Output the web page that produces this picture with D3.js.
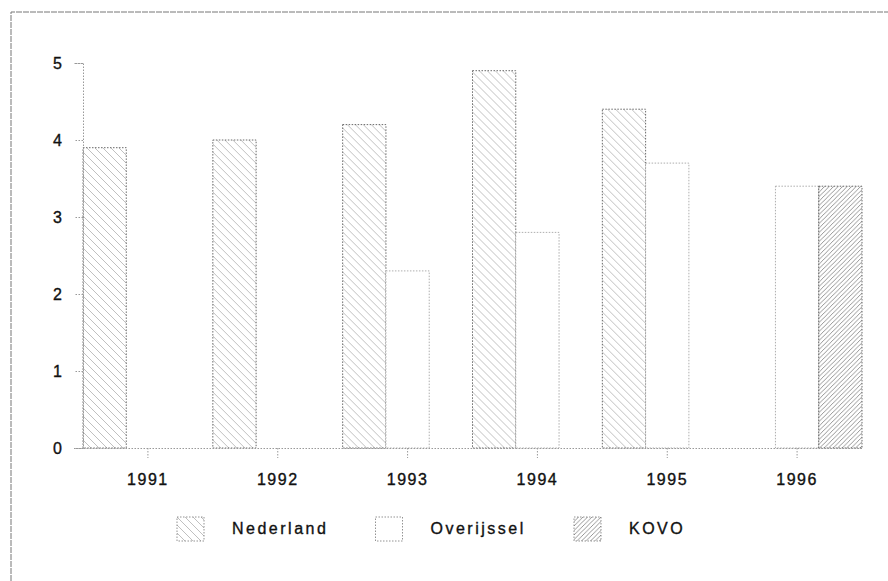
<!DOCTYPE html>
<html>
<head>
<meta charset="utf-8">
<script src="https://cdn.jsdelivr.net/npm/d3@7"></script>
<style>
  body { margin: 0; background: #fff; }
  text { font-family: "Liberation Sans", Arial, sans-serif; fill: #111; stroke: #111; stroke-width: 0.35px; }
</style>
</head>
<body>
<svg id="chart"></svg>
<script>
// values
let years = ["1991", "1992", "1993", "1994", "1995", "1996"];
let series = ["Nederland", "Overijssel", "KOVO"];
let nederland  = [3.9, 4.0, 4.2, 4.9, 4.4, 0];
let overijssel = [0, 0, 2.3, 2.8, 3.7, 3.4];
let kovo       = [0, 0, 0, 0, 0, 3.4];
let yTicks = [0, 1, 2, 3, 4, 5];

let width = 888, height = 581;
let plotLeft = 83, plotRight = 862, plotTop = 63, plotBottom = 448;

let svg = d3.select("#chart")
  .attr("width", width)
  .attr("height", height);

let defs = svg.append("defs");

// hatch for Nederland  (\\\ light)
let p1 = defs.append("pattern")
  .attr("id", "hatchNed")
  .attr("patternUnits", "userSpaceOnUse")
  .attr("width", 8).attr("height", 8);
p1.append("path")
  .attr("d", "M0,0 L8,8 M-4,4 L4,12 M4,-4 L12,4")
  .attr("stroke", "#b0b0b0")
  .attr("stroke-width", 0.8)
  .attr("fill", "none");

// hatch for KOVO (/// denser)
let p2 = defs.append("pattern")
  .attr("id", "hatchKovo")
  .attr("patternUnits", "userSpaceOnUse")
  .attr("width", 4.5).attr("height", 4.5);
p2.append("path")
  .attr("d", "M0,4.5 L4.5,0 M-2.25,2.25 L2.25,-2.25 M2.25,6.75 L6.75,2.25")
  .attr("stroke", "#8a8a8a")
  .attr("stroke-width", 0.9)
  .attr("fill", "none");

let fills = ["url(#hatchNed)", "#fff", "url(#hatchKovo)"];

// frame (top + left only)
svg.append("path")
  .attr("d", `M11,${height} L11,12 L${width},12`)
  .attr("fill", "none")
  .attr("stroke", "#777")
  .attr("stroke-width", 1)
  .attr("stroke-dasharray", "6,1");

let x = d3.scaleBand().domain(years).range([plotLeft, plotRight]).paddingInner(0).paddingOuter(0);
let xs = d3.scaleBand().domain(series).range([0, x.bandwidth()]);
let y = d3.scaleLinear().domain([0, 5]).range([plotBottom, plotTop]);

let table = years.map((yr, i) => ({
  year: yr,
  values: [nederland[i], overijssel[i], kovo[i]]
}));

// bars
let groups = svg.selectAll(".grp")
  .data(table)
  .join("g")
  .attr("class", "grp")
  .attr("transform", d => `translate(${x(d.year)},0)`);

groups.selectAll("rect")
  .data(d => d.values.map((v, j) => ({ s: series[j], v: v, j: j })))
  .join("rect")
  .attr("x", d => xs(d.s))
  .attr("width", xs.bandwidth())
  .attr("y", d => y(d.v))
  .attr("height", d => y(0) - y(d.v))
  .attr("fill", d => fills[d.j])
  .attr("stroke", d => d.j == 1 ? "#999" : "#444")
  .attr("stroke-width", 0.8)
  .attr("stroke-dasharray", "1.5,1.5")
  .attr("display", d => d.v > 0 ? null : "none");

// y axis
let yAxis = svg.append("g")
  .attr("transform", `translate(${plotLeft},0)`)
  .call(d3.axisLeft(y).tickValues(yTicks).tickFormat(d3.format("d")).tickSize(9).tickPadding(12));
yAxis.select(".domain").attr("stroke", "#999").attr("stroke-dasharray", "1.5,1.5");
yAxis.selectAll(".tick line").attr("stroke", "#999").attr("stroke-dasharray", "1.5,1.5");
yAxis.selectAll(".tick text")
  .attr("font-size", 16)
  .attr("font-family", "Liberation Sans, Arial, sans-serif")
  .attr("fill", "#111");

// x axis, ticks on the middle bar of each group
let xAxis = svg.append("g")
  .attr("transform", `translate(0,${plotBottom})`)
  .call(d3.axisBottom(x).tickSize(10).tickSizeOuter(0).tickPadding(16));
xAxis.select(".domain").attr("stroke", "#999").attr("stroke-dasharray", "1.5,1.5");
xAxis.selectAll(".tick line").attr("stroke", "#999").attr("stroke-dasharray", "1.5,1.5");
xAxis.selectAll(".tick text")
  .attr("font-size", 16)
  .attr("letter-spacing", "1.5px")
  .attr("font-family", "Liberation Sans, Arial, sans-serif")
  .attr("fill", "#111");

// legend
let legend = svg.append("g").attr("transform", "translate(177,517)");
let items = legend.selectAll(".item")
  .data(series)
  .join("g")
  .attr("class", "item")
  .attr("transform", (d, i) => `translate(${i * 198.5},0)`);
items.append("rect")
  .attr("width", 27).attr("height", 24)
  .attr("fill", (d, i) => fills[i])
  .attr("stroke", "#777")
  .attr("stroke-width", 0.8)
  .attr("stroke-dasharray", "1.5,1.5");
items.append("text")
  .attr("x", 55).attr("y", 17)
  .attr("font-size", 16)
  .attr("letter-spacing", "2.5px")
  .text(d => d);
</script>
</body>
</html>
